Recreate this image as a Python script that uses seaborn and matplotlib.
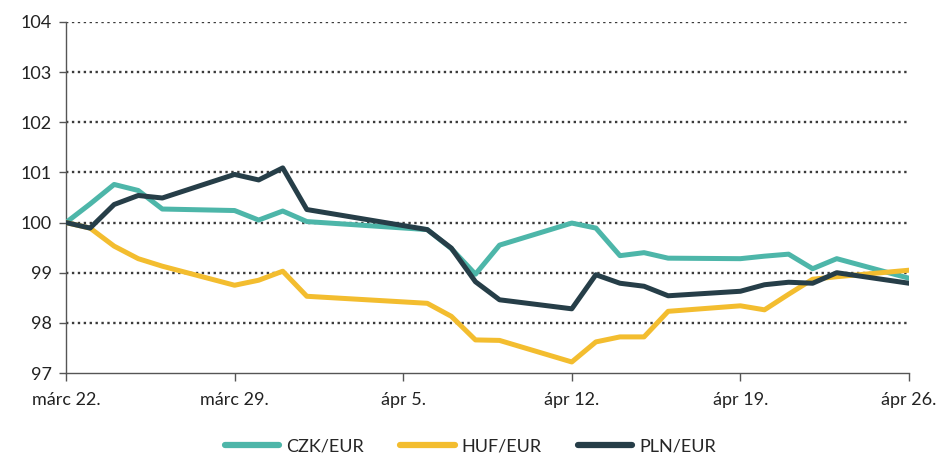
import numpy as np
import pandas as pd
import seaborn as sns
import matplotlib.pyplot as plt
import matplotlib.dates as mdates
from matplotlib.ticker import FixedLocator

# trading days (Easter: ápr 2. and ápr 5. missing)
dates = ["2021-03-22", "2021-03-23", "2021-03-24", "2021-03-25", "2021-03-26",
         "2021-03-29", "2021-03-30", "2021-03-31", "2021-04-01",
         "2021-04-06", "2021-04-07", "2021-04-08", "2021-04-09",
         "2021-04-12", "2021-04-13", "2021-04-14", "2021-04-15", "2021-04-16",
         "2021-04-19", "2021-04-20", "2021-04-21", "2021-04-22", "2021-04-23",
         "2021-04-26"]

czk = [100.0, 100.37, 100.76, 100.64, 100.27,
       100.24, 100.05, 100.23, 100.02,
       99.86, 99.48, 98.97, 99.55,
       99.99, 99.89, 99.34, 99.40, 99.29,
       99.28, 99.33, 99.37, 99.08, 99.28,
       98.89]
huf = [100.0, 99.89, 99.53, 99.28, 99.13,
       98.75, 98.85, 99.03, 98.53,
       98.39, 98.13, 97.66, 97.65,
       97.22, 97.62, 97.72, 97.72, 98.23,
       98.34, 98.26, 98.57, 98.87, 98.92,
       99.05]
pln = [100.0, 99.89, 100.36, 100.54, 100.49,
       100.96, 100.85, 101.09, 100.26,
       99.86, 99.49, 98.82, 98.46,
       98.28, 98.96, 98.79, 98.73, 98.54,
       98.63, 98.76, 98.81, 98.79, 99.0,
       98.79]

series = ["CZK/EUR", "HUF/EUR", "PLN/EUR"]
colors = ["#4db6a9", "#f3bd2f", "#263e48"]

tick_dates = ["2021-03-22", "2021-03-29", "2021-04-05", "2021-04-12", "2021-04-19", "2021-04-26"]
tick_labels = ["márc 22.", "márc 29.", "ápr 5.", "ápr 12.", "ápr 19.", "ápr 26."]
y_ticks = [97, 98, 99, 100, 101, 102, 103, 104]

df = pd.DataFrame({"date": pd.to_datetime(dates), "CZK/EUR": czk, "HUF/EUR": huf, "PLN/EUR": pln})
long = df.melt(id_vars="date", var_name="series", value_name="value")

sns.set_style("white")
plt.rcParams["font.family"] = ["Lato", "DejaVu Sans"]

fig = plt.figure(figsize=(9.41, 4.57), dpi=100)
ax = fig.add_axes([0.0701, 0.1838, 0.8959, 0.7681])

for y in y_ticks[1:]:
    ax.axhline(y, color="#3a3a3a", lw=1.7, ls=(0, (1, 1.5)), zorder=1)

sns.lineplot(data=long, x="date", y="value", hue="series", hue_order=series,
             palette=colors, linewidth=3.6, ax=ax, zorder=3)

xmin, xmax = pd.Timestamp(tick_dates[0]), pd.Timestamp(tick_dates[-1])
ax.set_xlim(xmin, xmax)
ax.set_ylim(97, 104)
ax.set_yticks(y_ticks)
ax.set_yticklabels([str(v) for v in y_ticks])
ax.xaxis.set_major_locator(FixedLocator(mdates.date2num(pd.to_datetime(tick_dates))))
ax.xaxis.set_minor_locator(FixedLocator(mdates.date2num(pd.date_range(xmin, xmax, freq="D"))))
ax.set_xticklabels(tick_labels)
ax.tick_params(axis="x", which="major", direction="out", length=6, width=1, color="#555555",
               labelsize=13, pad=8, labelcolor="#222222")
ax.tick_params(axis="x", which="minor", direction="out", length=5, width=1, color="#555555")
ax.tick_params(axis="y", direction="out", length=5, width=1, color="#555555",
               labelsize=13, labelcolor="#222222", pad=5)
ax.tick_params(axis="both", bottom=True, left=True)
ax.set_xlabel("")
ax.set_ylabel("")
for s in ["top", "right"]:
    ax.spines[s].set_visible(False)
for s in ["left", "bottom"]:
    ax.spines[s].set_color("#555555")
    ax.spines[s].set_linewidth(1)

ax.legend(loc="center", bbox_to_anchor=(0.48, -0.21), ncol=3, frameon=False,
          fontsize=13, handlelength=3.0, columnspacing=2.0, handletextpad=0.4)
for line in ax.get_legend().get_lines():
    line.set_linewidth(4.5)
    line.set_solid_capstyle("round")

fig.savefig("out.png", dpi=100)
